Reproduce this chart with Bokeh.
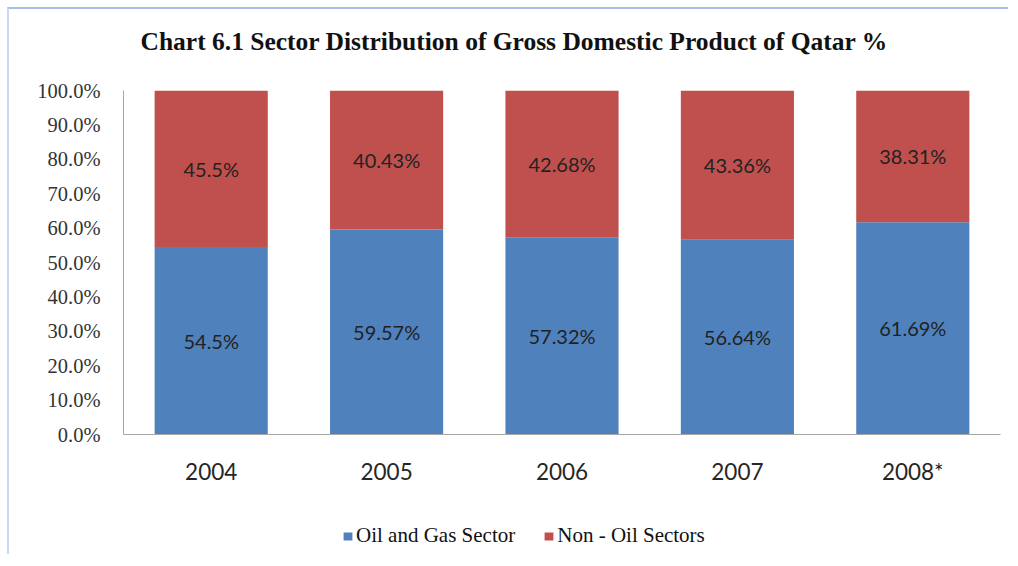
from bokeh.plotting import figure
from bokeh.layouts import column
from bokeh.models import ColumnDataSource, Legend, LegendItem, FixedTicker, PrintfTickFormatter, Range1d, FactorRange, Title
from bokeh.core.properties import value
from bokeh.embed import file_html
from bokeh.resources import INLINE

years = ["2004", "2005", "2006", "2007", "2008*"]
oil_gas = [54.5, 59.57, 57.32, 56.64, 61.69]
non_oil = [45.5, 40.43, 42.68, 43.36, 38.31]
series_names = ["Oil and Gas Sector", "Non - Oil Sectors"]
y_ticks = [0, 10, 20, 30, 40, 50, 60, 70, 80, 90, 100]

BLUE = "#4F81BD"
RED = "#C0504D"

src = ColumnDataSource(dict(
    year=years,
    oil=oil_gas,
    non=non_oil,
    oil_mid=[v / 2 for v in oil_gas],
    non_mid=[o + n / 2 for o, n in zip(oil_gas, non_oil)],
    oil_lbl=[f"{v:g}%" for v in oil_gas],
    non_lbl=[f"{v:g}%" for v in non_oil],
))

p = figure(
    x_range=FactorRange(*years, range_padding=0),
    y_range=Range1d(0, 100),
    frame_width=875, frame_height=342,
    min_border_left=114, min_border_right=10, min_border_top=81, min_border_bottom=78,
    output_backend="svg", toolbar_location=None,
)
p.styles = {"border-top": "2px solid #a9c1ea", "border-left": "2px solid #c9d9f3",
            "margin-top": "7px", "margin-left": "7px"}

spacer = Title(text=" ", text_font_size="1px", standoff=32)
p.add_layout(spacer, "above")
title = Title(text="Chart 6.1 Sector Distribution of Gross Domestic Product of Qatar %",
              text_font="Liberation Serif", text_font_style="bold", text_font_size="25.5px",
              text_color="#111111", align="left", offset=17, standoff=0)
p.add_layout(title, "above")

p.vbar(x="year", top="oil", bottom=0, width=0.645, source=src, fill_color=BLUE, line_color=None)
p.vbar(x="year", top=100, bottom="oil", width=0.645, source=src, fill_color=RED, line_color=None)

for ycol, tcol in (("oil_mid", "oil_lbl"), ("non_mid", "non_lbl")):
    p.text(x="year", y=ycol, text=tcol, source=src, text_align="center", text_baseline="middle",
           text_font=value("Lato"), text_font_size="20px", text_color="#222222")

p.xgrid.visible = False
p.ygrid.visible = False
p.outline_line_color = None
p.background_fill_color = "white"

p.yaxis.ticker = FixedTicker(ticks=y_ticks)
p.yaxis.formatter = PrintfTickFormatter(format="%.1f%%")
p.yaxis.major_label_text_font = "Liberation Serif"
p.yaxis.major_label_text_font_size = "20.5px"
p.yaxis.major_label_text_color = "#333333"
p.yaxis.major_tick_line_color = None
p.yaxis.minor_tick_line_color = None
p.yaxis.axis_line_color = "#A6A6A6"
p.yaxis.major_label_standoff = 17

p.xaxis.major_label_text_font = "Lato"
p.xaxis.major_label_text_font_size = "22.5px"
p.xaxis.major_label_text_color = "#262626"
p.xaxis.major_tick_line_color = None
p.xaxis.axis_line_color = "#A6A6A6"
p.xaxis.major_label_standoff = 17

# legend strip below the chart (proxy renderers drawn outside the visible range)
lg = figure(width=999, height=44, x_range=Range1d(0, 1), y_range=Range1d(0, 1),
            x_axis_type=None, y_axis_type=None, min_border=0,
            output_backend="svg", toolbar_location=None)
lg.styles = {"border-left": "2px solid #c9d9f3", "margin-left": "7px"}
lg.outline_line_color = None
lg.xgrid.visible = False
lg.ygrid.visible = False
g1 = lg.vbar(x=[-1], top=[-1], bottom=[-1], width=0.1, fill_color=BLUE, line_color=None)
g2 = lg.vbar(x=[-1], top=[-1], bottom=[-1], width=0.1, fill_color=RED, line_color=None)
legend = Legend(items=[LegendItem(label=series_names[0], renderers=[g1]),
                       LegendItem(label=series_names[1], renderers=[g2])],
                orientation="horizontal", location=(219, 6),
                glyph_width=11, glyph_height=10, spacing=28, label_standoff=3,
                label_text_font="Liberation Serif", label_text_font_size="21px",
                label_text_color="#111111", border_line_color=None, background_fill_alpha=0,
                padding=0, margin=0)
lg.add_layout(legend, "center")

layout = column(p, lg, spacing=0)
open("out.html", "w").write(file_html(layout, INLINE))
